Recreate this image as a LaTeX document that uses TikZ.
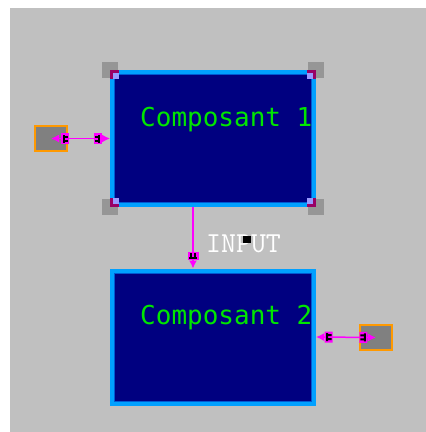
\documentclass[tikz,border=0pt]{standalone}
\usepackage{fontspec}
\newfontfamily\compfont{DejaVu Sans Mono}
\usepackage{tikz}
\usetikzlibrary{positioning,arrows.meta}
\usepackage{xcolor}
\definecolor{canvasgray}{RGB}{192,192,192}
\definecolor{compnavy}{RGB}{0,0,128}
\definecolor{compedge}{RGB}{0,160,255}
\definecolor{compinner}{RGB}{0,90,210}
\definecolor{portorange}{RGB}{255,153,0}
\definecolor{portgray}{RGB}{128,128,128}
\definecolor{linkpink}{RGB}{255,0,255}
\definecolor{labelgreen}{RGB}{0,230,0}
\definecolor{handlegray}{RGB}{150,150,150}
\definecolor{handlepurple}{RGB}{153,0,102}
\definecolor{handlelilac}{RGB}{153,153,255}

\tikzset{
  compbox/.style={rectangle,draw=compedge,fill=compnavy,line width=4pt,
                  minimum width=202pt,minimum height=133pt,inner sep=0pt},
  portbox/.style={rectangle,draw=portorange,fill=portgray,line width=2pt,
                  minimum width=32pt,minimum height=25pt,inner sep=0pt},
  complabel/.style={text=labelgreen,font=\compfont\fontsize{26}{26}\selectfont,
                    inner sep=0pt,anchor=base west},
  link/.style={draw=linkpink,line width=1.5pt},
  linktip/.tip={Latex[length=8pt,width=8pt]},
  linkmark/.style={rectangle,fill=linkpink,minimum width=8pt,minimum height=11pt,
                   inner sep=0pt,sloped,
                   path picture={
                     \begin{scope}[shift={(path picture bounding box.center)}]
                       \fill[black] (-2.5,-4) rectangle (-0.5,4);
                       \fill[black] (-0.5,-3) rectangle (3,-1);
                       \fill[black] (-0.5,1) rectangle (3,3);
                     \end{scope}}}
}

\begin{document}
\begin{tikzpicture}[x=1pt,y=-1pt]
\useasboundingbox (0,0) rectangle (426,432);
\fill[canvasgray] (10,8) rectangle (426,432);

% components
\node[compbox] (comp1) at (213,138.5) {};
\node[compbox] (comp2) at (213,337) {};
\foreach \c in {comp1,comp2}
  \draw[compinner,line width=1pt] ([shift={(4.5,4.5)}]\c.north west)
    rectangle ([shift={(-4.5,-4.5)}]\c.south east);
\node[complabel] (lbl1) at (140,126) {Composant 1};
\node[complabel] (lbl2) at (140,324) {Composant 2};

% ports
\node[portbox] (portL) at (51,138.5) {};
\node[portbox] (portR) at (376,337.5) {};

% links
\draw[link,linktip-linktip] (portL.center) -- (comp1.west)
  node[linkmark,pos=0.24] {} node[linkmark,pos=0.79,rotate=180] {};
\draw[link,-linktip] ([xshift=-20pt]comp1.south) -- ([xshift=-20pt]comp2.north)
  node[linkmark,pos=0.8,rotate=180] {};
\draw[link,linktip-linktip] (comp2.east) -- (portR.center)
  node[linkmark,pos=0.21] {} node[linkmark,pos=0.79,rotate=180] {};

\node[text=white,font=\ttfamily\fontsize{29}{29}\selectfont,inner sep=0pt,
      anchor=base west] (inputlbl) at (206,252) {INPUT};
\node[fill=black,minimum width=8pt,minimum height=7pt,inner sep=0pt]
  (inputmark) at (247,239.5) {};

% selection handles
\foreach \corner/\sx/\sy in {north west/1/1,north east/-1/1,south west/1/-1,south east/-1/-1} {
  \fill[handlegray] ([shift={(-8,-8)}]comp1.\corner) rectangle ++(16,16);
  \fill[handlepurple] (comp1.\corner) rectangle ++(9*\sx,9*\sy);
  \fill[handlelilac] ([shift={(3*\sx,3*\sy)}]comp1.\corner) rectangle ++(6*\sx,6*\sy);
}
\end{tikzpicture}
\end{document}
